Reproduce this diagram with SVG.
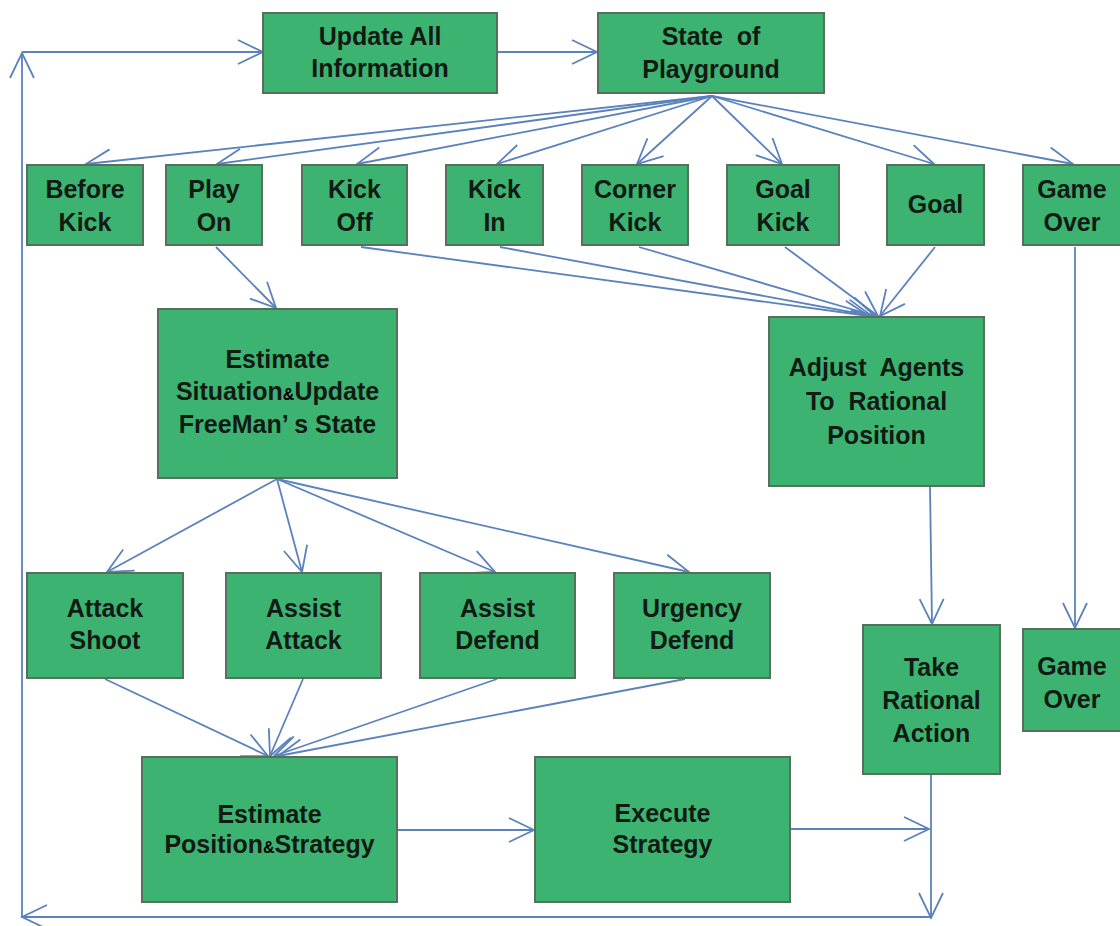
<svg xmlns="http://www.w3.org/2000/svg" width="1120" height="926" viewBox="0 0 1120 926">
<style>
.box{fill:#3db371;stroke:#56705c;stroke-width:2}
.t{font-family:"Liberation Sans",Arial,sans-serif;font-weight:bold;font-size:25px;fill:#121a14;text-anchor:middle;white-space:pre}
.amp{font-size:16px;fill:#000}
.c{fill:none;stroke:#5a82bd;stroke-width:1.8}
</style>
<defs>
<marker id="ah" markerUnits="userSpaceOnUse" markerWidth="40" markerHeight="40" viewBox="-30 -20 40 40" refX="0" refY="0" orient="auto">
<path d="M-25,-12 L0,0 L-25,12" fill="none" stroke="#5a82bd" stroke-width="1.8"/>
</marker>
</defs>
<rect width="1120" height="926" fill="#fff"/>
<g id="connectors">
<line class="c" x1="22" y1="52" x2="263" y2="52" marker-end="url(#ah)"/>
<line class="c" x1="497" y1="52" x2="597" y2="52" marker-end="url(#ah)"/>
<line class="c" x1="712" y1="96" x2="86" y2="164" marker-end="url(#ah)"/>
<line class="c" x1="712" y1="96" x2="217" y2="164" marker-end="url(#ah)"/>
<line class="c" x1="712" y1="96" x2="357" y2="164" marker-end="url(#ah)"/>
<line class="c" x1="712" y1="96" x2="497" y2="164" marker-end="url(#ah)"/>
<line class="c" x1="712" y1="96" x2="637" y2="164" marker-end="url(#ah)"/>
<line class="c" x1="712" y1="96" x2="782" y2="164" marker-end="url(#ah)"/>
<line class="c" x1="712" y1="96" x2="934" y2="164" marker-end="url(#ah)"/>
<line class="c" x1="712" y1="96" x2="1073" y2="164" marker-end="url(#ah)"/>
<line class="c" x1="216" y1="247" x2="276" y2="308" marker-end="url(#ah)"/>
<line class="c" x1="361" y1="247" x2="869" y2="316" marker-end="url(#ah)"/>
<line class="c" x1="500" y1="247" x2="872" y2="316" marker-end="url(#ah)"/>
<line class="c" x1="639" y1="247" x2="875" y2="316" marker-end="url(#ah)"/>
<line class="c" x1="785" y1="247" x2="878" y2="316" marker-end="url(#ah)"/>
<line class="c" x1="935" y1="247" x2="880" y2="316" marker-end="url(#ah)"/>
<line class="c" x1="1075" y1="247" x2="1075" y2="628" marker-end="url(#ah)"/>
<line class="c" x1="930" y1="486" x2="932" y2="624" marker-end="url(#ah)"/>
<line class="c" x1="277" y1="479" x2="107" y2="572" marker-end="url(#ah)"/>
<line class="c" x1="277" y1="479" x2="302" y2="572" marker-end="url(#ah)"/>
<line class="c" x1="277" y1="479" x2="495" y2="572" marker-end="url(#ah)"/>
<line class="c" x1="277" y1="479" x2="689" y2="572" marker-end="url(#ah)"/>
<line class="c" x1="105" y1="679" x2="268" y2="756" marker-end="url(#ah)"/>
<line class="c" x1="303" y1="679" x2="270" y2="756" marker-end="url(#ah)"/>
<line class="c" x1="497" y1="679" x2="274" y2="756" marker-end="url(#ah)"/>
<line class="c" x1="685" y1="679" x2="278" y2="756" marker-end="url(#ah)"/>
<line class="c" x1="397" y1="830" x2="534" y2="830" marker-end="url(#ah)"/>
<line class="c" x1="790" y1="829" x2="929" y2="829" marker-end="url(#ah)"/>
<line class="c" x1="931" y1="774" x2="931" y2="918" marker-end="url(#ah)"/>
<line class="c" x1="931" y1="917" x2="22" y2="917" marker-end="url(#ah)"/>
<line class="c" x1="22" y1="917" x2="22" y2="53" marker-end="url(#ah)"/>
</g>
<g id="update"><rect class="box" x="263" y="13" width="234" height="80"/><text class="t" x="380" y="45">Update All</text><text class="t" x="380" y="77">Information</text></g>
<g id="state"><rect class="box" x="598" y="13" width="226" height="80"/><text class="t" x="711" y="45">State  of</text><text class="t" x="711" y="78">Playground</text></g>
<g id="beforekick"><rect class="box" x="27" y="165" width="116" height="80"/><text class="t" x="85" y="198">Before</text><text class="t" x="85" y="231">Kick</text></g>
<g id="playon"><rect class="box" x="166" y="165" width="96" height="80"/><text class="t" x="214" y="198">Play</text><text class="t" x="214" y="231">On</text></g>
<g id="kickoff"><rect class="box" x="302" y="165" width="105" height="80"/><text class="t" x="354.5" y="198">Kick</text><text class="t" x="354.5" y="231">Off</text></g>
<g id="kickin"><rect class="box" x="446" y="165" width="97" height="80"/><text class="t" x="494.5" y="198">Kick</text><text class="t" x="494.5" y="231">In</text></g>
<g id="cornerkick"><rect class="box" x="582" y="165" width="106" height="80"/><text class="t" x="635" y="198">Corner</text><text class="t" x="635" y="231">Kick</text></g>
<g id="goalkick"><rect class="box" x="727" y="165" width="112" height="80"/><text class="t" x="783" y="198">Goal</text><text class="t" x="783" y="231">Kick</text></g>
<g id="goal"><rect class="box" x="887" y="165" width="97" height="80"/><text class="t" x="935.5" y="213">Goal</text></g>
<g id="gameover1"><rect class="box" x="1023" y="165" width="100" height="80"/><text class="t" x="1072" y="198">Game</text><text class="t" x="1072" y="231">Over</text></g>
<g id="estsituation"><rect class="box" x="158" y="309" width="239" height="169"/><text class="t" x="277.5" y="368">Estimate</text><text class="t" x="277.5" y="400">Situation<tspan class="amp">&amp;</tspan>Update</text><text class="t" x="277.5" y="433">FreeMan’ s State</text></g>
<g id="adjust"><rect class="box" x="769" y="317" width="215" height="169"/><text class="t" x="876.5" y="376">Adjust  Agents</text><text class="t" x="876.5" y="410">To  Rational</text><text class="t" x="876.5" y="444">Position</text></g>
<g id="attackshoot"><rect class="box" x="27" y="573" width="156" height="105"/><text class="t" x="105" y="617">Attack</text><text class="t" x="105" y="649">Shoot</text></g>
<g id="assistattack"><rect class="box" x="226" y="573" width="155" height="105"/><text class="t" x="303.5" y="617">Assist</text><text class="t" x="303.5" y="649">Attack</text></g>
<g id="assistdefend"><rect class="box" x="420" y="573" width="155" height="105"/><text class="t" x="497.5" y="617">Assist</text><text class="t" x="497.5" y="649">Defend</text></g>
<g id="urgencydefend"><rect class="box" x="614" y="573" width="156" height="105"/><text class="t" x="692" y="617">Urgency</text><text class="t" x="692" y="649">Defend</text></g>
<g id="takeaction"><rect class="box" x="863" y="625" width="137" height="149"/><text class="t" x="931.5" y="676">Take</text><text class="t" x="931.5" y="709">Rational</text><text class="t" x="931.5" y="742">Action</text></g>
<g id="gameover2"><rect class="box" x="1023" y="629" width="100" height="102"/><text class="t" x="1072" y="675">Game</text><text class="t" x="1072" y="708">Over</text></g>
<g id="estposition"><rect class="box" x="142" y="757" width="255" height="145"/><text class="t" x="269.5" y="823">Estimate</text><text class="t" x="269.5" y="853">Position<tspan class="amp">&amp;</tspan>Strategy</text></g>
<g id="execute"><rect class="box" x="535" y="757" width="255" height="145"/><text class="t" x="662.5" y="822">Execute</text><text class="t" x="662.5" y="853">Strategy</text></g>
</svg>
